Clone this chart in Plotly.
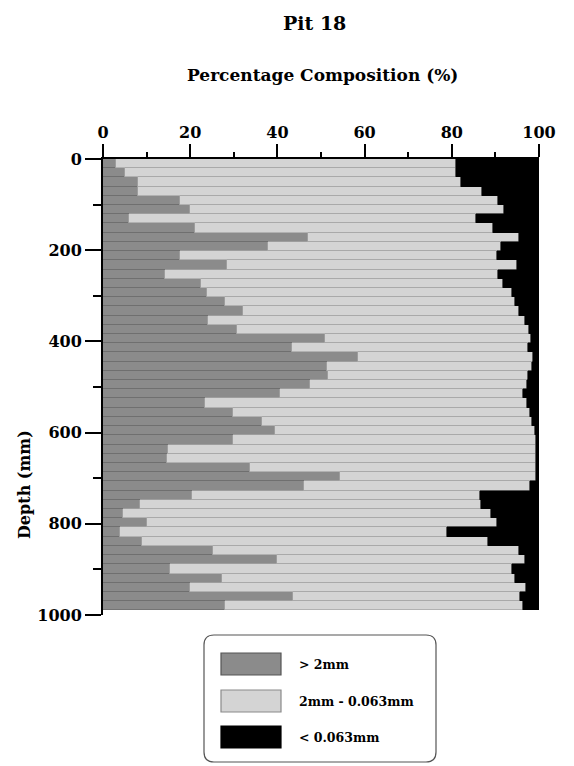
import plotly.graph_objects as go

# ---- data ----
layer_mm = 20.2   # thickness of each sampled layer
gravel = [3, 5, 8, 8, 17.7, 20, 6, 21, 47, 37.8,
          17.7, 28.5, 14.2, 22.4, 23.8, 28, 32, 24, 30.7, 51,
          43.3, 58.5, 51.3, 51.6, 47.5, 40.6, 23.4, 29.8, 36.4, 39.4,
          29.8, 15, 14.6, 33.7, 54.4, 46, 20.3, 8.5, 4.7, 10,
          3.9, 8.9, 25.3, 39.8, 15.4, 27.2, 20, 43.6, 28]
sand = [78, 76, 74, 79, 72.8, 72, 79.5, 68.5, 48.3, 53.5,
        72.6, 66.4, 76.3, 69.4, 69.9, 66.5, 63.5, 72.8, 67.1, 47.2,
        54.2, 40.2, 47.0, 45.9, 49.7, 55.8, 73.8, 68.1, 61.9, 59.6,
        69.5, 84.4, 84.8, 65.7, 45.0, 52, 66.2, 78.2, 84.3, 80.3,
        75.1, 79.4, 70.1, 57.0, 78.3, 67.3, 77, 52, 68.4]
fines = [19, 19, 18, 13, 9.5, 8, 14.5, 10.5, 4.7, 8.7,
         9.7, 5.1, 9.5, 8.2, 6.3, 5.5, 4.5, 3.2, 2.2, 1.8,
         2.5, 1.3, 1.7, 2.5, 2.8, 3.6, 2.8, 2.1, 1.7, 1.0,
         0.7, 0.6, 0.6, 0.6, 0.6, 2, 13.5, 13.3, 11, 9.7,
         21, 11.7, 4.6, 3.2, 6.3, 5.5, 3, 4.4, 3.6]
depth = [layer_mm * (i + 0.5) for i in range(len(gravel))]

x_ticks = [0, 20, 40, 60, 80, 100]
y_ticks = [0, 200, 400, 600, 800, 1000]
legend_labels = ["> 2mm", "2mm - 0.063mm", "< 0.063mm"]

c_gravel, c_sand, c_fines = "#8b8b8b", "#d4d4d4", "#000000"

# page offset of the figure div (default body margin)
OFF = 8
W, H = 574, 766
# plot area in page pixels: x 103..539, y 159..615
PL, PR, PT, PB = 103, 539, 159, 615
L, T = PL - OFF, PT - OFF
R = W - (PR - OFF)
B = H - (PB - OFF)
pw, ph = PR - PL, PB - PT


def px(x):
    return (x - PL) / pw


def py(y):
    return (PB - y) / ph


serif = "DejaVu Serif"

fig = go.Figure()
fig.add_bar(y=depth, x=gravel, orientation="h", width=layer_mm,
            marker=dict(color=c_gravel, line=dict(color="#6e6e6e", width=0.8)),
            name=legend_labels[0], showlegend=False)
fig.add_bar(y=depth, x=sand, orientation="h", width=layer_mm,
            marker=dict(color=c_sand, line=dict(color="#a8a8a8", width=0.8)),
            name=legend_labels[1], showlegend=False)
fig.add_bar(y=depth, x=fines, orientation="h", width=layer_mm,
            marker=dict(color=c_fines, line=dict(color="#000000", width=0.5)),
            name=legend_labels[2], showlegend=False)

fig.update_layout(
    width=W, height=H,
    margin=dict(l=L, r=R, t=T, b=B),
    barmode="stack", bargap=0,
    paper_bgcolor="white", plot_bgcolor="white",
    font=dict(family=serif, color="black", size=16, weight="bold"),
)
fig.update_xaxes(
    side="top", range=[0, 100], tickvals=x_ticks,
    ticks="outside", ticklen=13, tickwidth=2, tickcolor="black",
    showline=True, linecolor="black", linewidth=2, showgrid=False, zeroline=False,
    tickfont=dict(family=serif, size=16, weight="bold"),
    minor=dict(dtick=10, ticks="outside", ticklen=5, tickwidth=2, tickcolor="black"),
)
fig.update_yaxes(
    range=[1000, 0], tickvals=y_ticks,
    ticks="outside", ticklen=16, tickwidth=2, tickcolor="black",
    showline=True, linecolor="black", linewidth=2, showgrid=False, zeroline=False,
    tickfont=dict(family=serif, size=16, weight="bold"),
    minor=dict(dtick=100, ticks="outside", ticklen=8, tickwidth=2, tickcolor="black"),
)

ann = [
    dict(text="Pit 18", x=px(314), y=py(23), font=dict(size=19)),
    dict(text="Percentage Composition (%)", x=px(322), y=py(75), font=dict(size=17)),
    dict(text="Depth (mm)", x=px(24), y=py(485), textangle=-90, font=dict(size=16)),
]
for a in ann:
    a.update(xref="paper", yref="paper", showarrow=False,
             xanchor="center", yanchor="middle")
    fig.add_annotation(**a)

# legend drawn as a rounded box with large swatches
x0, x1, y0, y1, r = 204, 436, 635, 762, 10
path = (f"M {px(x0 + r)},{py(y0)} L {px(x1 - r)},{py(y0)} "
        f"Q {px(x1)},{py(y0)} {px(x1)},{py(y0 + r)} "
        f"L {px(x1)},{py(y1 - r)} Q {px(x1)},{py(y1)} {px(x1 - r)},{py(y1)} "
        f"L {px(x0 + r)},{py(y1)} Q {px(x0)},{py(y1)} {px(x0)},{py(y1 - r)} "
        f"L {px(x0)},{py(y0 + r)} Q {px(x0)},{py(y0)} {px(x0 + r)},{py(y0)} Z")
fig.add_shape(type="path", path=path, xref="paper", yref="paper",
              line=dict(color="#555555", width=1.2), fillcolor="white", layer="above")

sw_rows = [(653, 675), (690, 712), (726, 748)]
sw_fill = [c_gravel, c_sand, c_fines]
sw_line = ["#555555", "#8a8a8a", "#000000"]
for (ya, yb), fc, lc, lab in zip(sw_rows, sw_fill, sw_line, legend_labels):
    fig.add_shape(type="rect", xref="paper", yref="paper",
                  x0=px(221), x1=px(281), y0=py(yb), y1=py(ya),
                  fillcolor=fc, line=dict(color=lc, width=1.2), layer="above")
    fig.add_annotation(text=lab, xref="paper", yref="paper",
                       x=px(297), y=py((ya + yb) / 2), xanchor="left", yanchor="middle",
                       showarrow=False, font=dict(size=12.5, family=serif, weight="bold"))

fig.write_html("out.html")
